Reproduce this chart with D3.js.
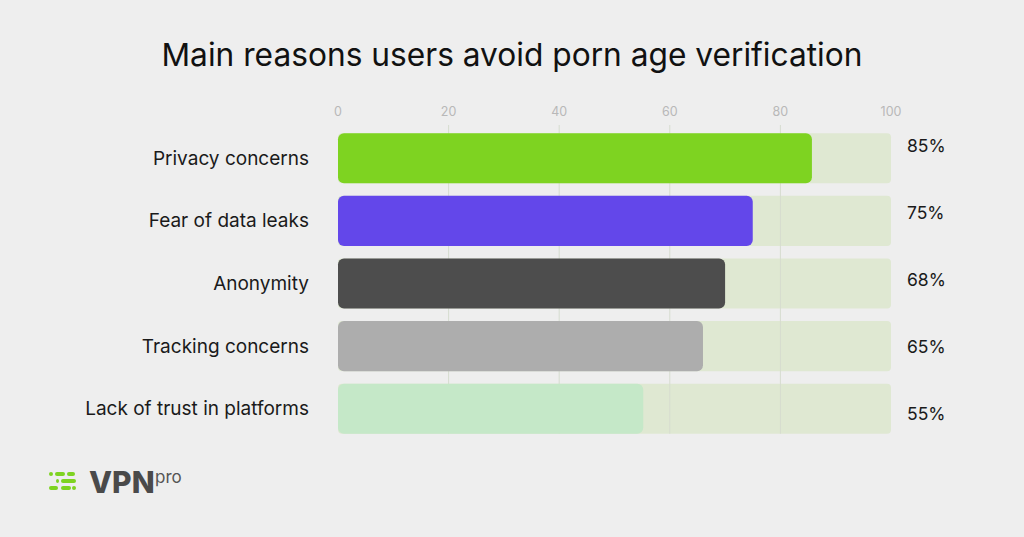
<!DOCTYPE html>
<html><head><meta charset="utf-8">
<script src="https://cdn.jsdelivr.net/npm/d3@7"></script>
<style>
html,body{margin:0;padding:0;background:#eeeeee;}
svg{display:block;font-family:Inter,"Noto Sans",sans-serif;}
</style></head>
<body><svg id="c" width="1024" height="537"></svg>
<script>
const categories = ["Privacy concerns","Fear of data leaks","Anonymity","Tracking concerns","Lack of trust in platforms"];
const values = [85.7, 75, 70, 66, 55.2];
const valueLabels = ["85%","75%","68%","65%","55%"];
const colors = ["#7ed321","#6347ea","#4d4d4d","#adadad","#c5e8c8"];
const ticks = [0,20,40,60,80,100];
const title = "Main reasons users avoid porn age verification";

const svg = d3.select("#c");
svg.append("rect").attr("width",1024).attr("height",537).attr("fill","#eeeeee");

const x = d3.scaleLinear().domain([0,100]).range([338,891]);
const y = d3.scaleBand().domain(categories).range([127,440]).paddingInner(0.2).paddingOuter(0.1);
const yLab = d3.scalePoint().domain(valueLabels).range([146,414]);

svg.append("text").attr("x",512).attr("y",66).attr("text-anchor","middle")
  .attr("font-size",31.7).attr("fill","#111").text(title);

// tick labels
svg.append("g").selectAll("text").data(ticks).join("text")
  .attr("x",d=>x(d)).attr("y",116).attr("text-anchor","middle")
  .attr("font-size",12.5).attr("fill","#b8b8b8").text(d=>d);

// tracks
svg.append("g").selectAll("rect").data(categories).join("rect")
  .attr("x",x(0)).attr("y",d=>y(d)).attr("width",x(100)-x(0)).attr("height",y.bandwidth())
  .attr("rx",4).attr("fill","#dfe8d2");

// gridlines
svg.append("g").selectAll("line").data(ticks.slice(1,5)).join("line")
  .attr("x1",d=>x(d)).attr("x2",d=>x(d)).attr("y1",125).attr("y2",y(categories[4])+y.bandwidth())
  .attr("stroke","#d6dccf").attr("stroke-width",1);

// bars
svg.append("g").selectAll("rect").data(values).join("rect")
  .attr("x",x(0)).attr("y",(d,i)=>y(categories[i])).attr("width",d=>x(d)-x(0)).attr("height",y.bandwidth())
  .attr("rx",6).attr("fill",(d,i)=>colors[i]);

// category labels
svg.append("g").selectAll("text").data(categories).join("text")
  .attr("x",309).attr("y",d=>y(d)+y.bandwidth()/2+6.5).attr("text-anchor","end")
  .attr("font-size",19).attr("fill","#1a1a1a").text(d=>d);

// value labels
svg.append("g").selectAll("text").data(valueLabels).join("text")
  .attr("x",907).attr("y",d=>yLab(d)+6).attr("text-anchor","start")
  .attr("font-size",17.5).attr("fill","#1a1a1a").text(d=>d);

// logo
const logo = svg.append("g");
const dashes = [[49,474,4],[55,474,10],[67,474,8],[56,481,3],[61,481,15],[49,488,9],[61,488,10],[72,488,4]];
logo.selectAll("rect").data(dashes).join("rect")
  .attr("x",d=>d[0]).attr("y",d=>d[1]-2).attr("width",d=>d[2]).attr("height",4).attr("rx",2)
  .attr("fill","#7ed321");
logo.append("text").attr("x",89).attr("y",493).attr("font-size",30).attr("font-weight",800)
  .attr("fill","#4a4a4a").attr("font-family","Inter,'DejaVu Sans',sans-serif").text("VPN");
logo.append("text").attr("x",155).attr("y",483).attr("font-size",17)
  .attr("fill","#555").text("pro");
</script></body></html>
